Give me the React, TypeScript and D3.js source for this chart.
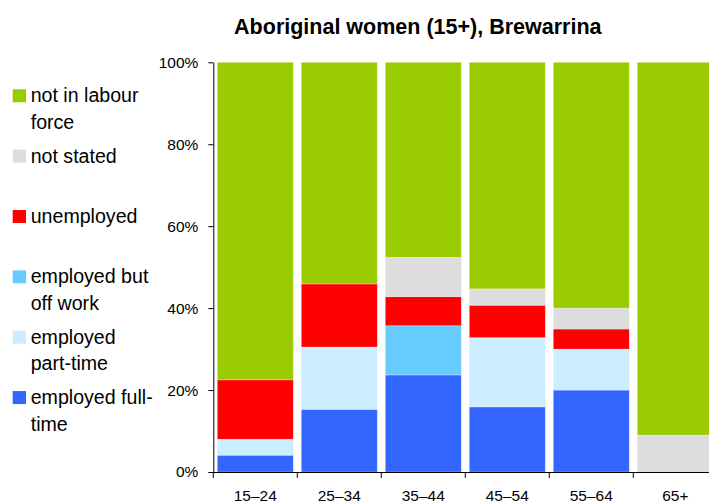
import React, { useEffect, useRef } from "react";
import * as d3 from "d3";

const categories = ["15–24", "25–34", "35–44", "45–54", "55–64", "65+"];
const seriesNames = [
  "employed full-time",
  "employed part-time",
  "employed but off work",
  "unemployed",
  "not stated",
  "not in labour force",
];
const fullTime = [4.1, 15.3, 23.7, 15.9, 20.0, 0];
const partTime = [3.9, 15.2, 0, 16.9, 10.0, 0];
const offWork = [0, 0, 12.0, 0, 0, 0];
const unemployed = [14.5, 15.4, 7.1, 7.9, 4.9, 0];
const notStated = [0, 0, 9.6, 4.0, 5.1, 9.0];
const notInLabour = [77.5, 54.1, 47.6, 55.3, 60.0, 91.0];
const colors = ["#3366FF", "#CCECFF", "#66CCFF", "#FF0000", "#DDDDDD", "#99CC00"];
const yTicks = [0, 20, 40, 60, 80, 100];

const legendItems = [
  { lines: ["not in labour", "force"], color: "#99CC00" },
  { lines: ["not stated"], color: "#DDDDDD" },
  { lines: ["unemployed"], color: "#FF0000" },
  { lines: ["employed but", "off work"], color: "#66CCFF" },
  { lines: ["employed", "part-time"], color: "#CCECFF" },
  { lines: ["employed full-", "time"], color: "#3366FF" },
];

const W = 709;
const H = 504;
const left = 213.3;
const right = 717.3;
const top = 62.3;
const bottom = 472;
const FONT = "Liberation Sans, Arial, Helvetica, sans-serif";

export default function App() {
  const yRef = useRef<SVGGElement>(null);
  const xRef = useRef<SVGGElement>(null);

  const x = d3
    .scaleBand<string>()
    .domain(categories)
    .range([left, right])
    .paddingInner(8 / 84)
    .paddingOuter(4 / 84);
  const y = d3.scaleLinear().domain([0, 100]).range([bottom, top]);

  const series = [fullTime, partTime, offWork, unemployed, notStated, notInLabour];
  const rows = categories.map((c, i) => {
    const r: any = { cat: c };
    seriesNames.forEach((s, k) => (r[s] = series[k][i]));
    return r;
  });
  const stacked = d3.stack<any>().keys(seriesNames)(rows);

  useEffect(() => {
    if (yRef.current) {
      const g = d3.select(yRef.current);
      g.selectAll("*").remove();
      g.call(
        d3
          .axisLeft(y)
          .tickValues(yTicks)
          .tickFormat((d) => `${d}%`)
          .tickSize(5)
          .tickSizeOuter(0)
          .tickPadding(10)
      );
      g.selectAll("text")
        .attr("font-size", 15.5)
        .attr("font-family", FONT)
        .attr("fill", "#000");
      g.selectAll("line,path").attr("stroke", "#000");
    }
    if (xRef.current) {
      const g = d3.select(xRef.current);
      g.selectAll("*").remove();
      g.call(d3.axisBottom(x).tickSize(0).tickSizeOuter(0).tickPadding(18));
      g.selectAll("text")
        .attr("font-size", 15.5)
        .attr("font-family", FONT)
        .attr("fill", "#000");
      g.selectAll("path").attr("stroke", "#000");
      const step = x.step();
      g.selectAll("line.bnd")
        .data(categories)
        .enter()
        .append("line")
        .attr("class", "bnd")
        .attr("x1", (d) => (x(d) as number) - (step - x.bandwidth()) / 2)
        .attr("x2", (d) => (x(d) as number) - (step - x.bandwidth()) / 2)
        .attr("y1", 0)
        .attr("y2", 6)
        .attr("stroke", "#000");
    }
  }, []);

  return (
    <svg
      width={W}
      height={H}
      style={{ position: "absolute", left: 0, top: 0, background: "#fff" }}
    >
      <text
        x={417.8}
        y={34.3}
        textAnchor="middle"
        fontFamily={FONT}
        fontWeight="bold"
        fontSize={21.5}
        fill="#000"
      >
        Aboriginal women (15+), Brewarrina
      </text>
      {stacked.map((layer, k) => (
        <g key={layer.key} fill={colors[k]}>
          {layer.map((d, i) =>
            d[1] - d[0] > 0 ? (
              <rect
                key={i}
                x={x(categories[i])}
                width={x.bandwidth()}
                y={y(d[1])}
                height={y(d[0]) - y(d[1])}
                stroke="#ffffff"
                strokeOpacity={0.35}
                strokeWidth={0.8}
              />
            ) : null
          )}
        </g>
      ))}
      <g ref={yRef} transform={`translate(${left},0)`} />
      <g ref={xRef} transform={`translate(0,${bottom})`} />
      <g fontFamily={FONT} fontSize={19.6} fill="#000">
        {legendItems.map((it, i) => {
          const base = 102.3 + i * 60.35;
          return (
            <g key={i}>
              <rect x={12.7} y={base - 13} width={13.3} height={13} fill={it.color} />
              {it.lines.map((l, j) => (
                <text key={j} x={30.7} y={base + j * 26.5}>
                  {l}
                </text>
              ))}
            </g>
          );
        })}
      </g>
    </svg>
  );
}
